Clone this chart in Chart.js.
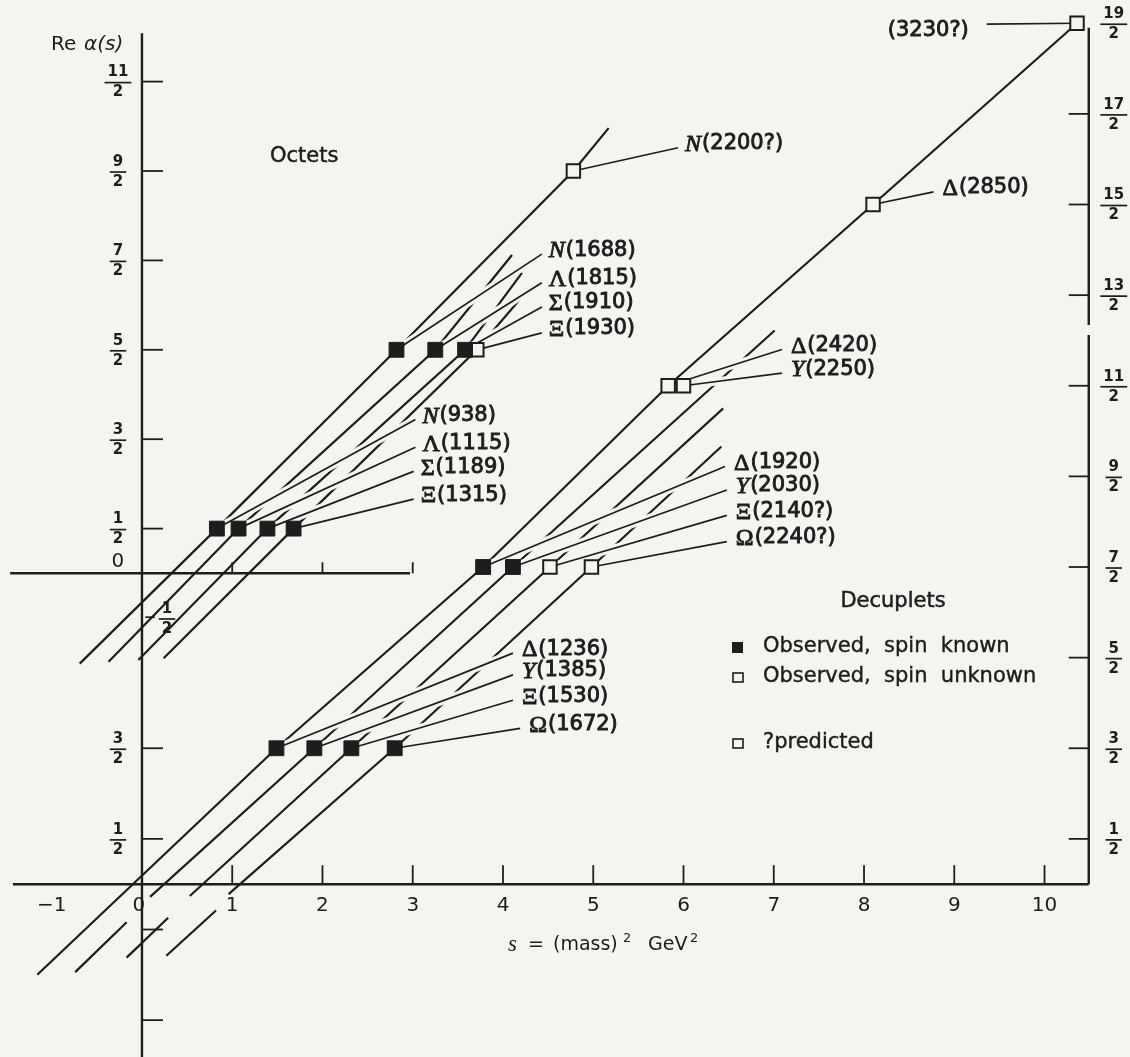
<!DOCTYPE html>
<html>
<head>
<meta charset="utf-8">
<title>Regge trajectories of the baryon octets and decuplets</title>
<script src="https://cdn.jsdelivr.net/npm/chart.js@4.4.1/dist/chart.umd.min.js"></script>
<style>
  html, body { margin: 0; padding: 0; background: #f4f4f1; }
  #chart { display: block; }
</style>
</head>
<body>
<canvas id="chart" width="1130" height="1057"></canvas>
<script>
// s = (mass)^2 in GeV^2, Re alpha(s) = spin J

// octet baryons
const octetNames = ['N(938)', 'Λ(1115)', 'Σ(1189)', 'Ξ(1315)', 'N(1688)', 'Λ(1815)', 'Σ(1910)', 'Ξ(1930)', 'N(2200?)'];
const octetS = [0.83, 1.07, 1.39, 1.68, 2.82, 3.25, 3.58, 3.71, 4.78];
const octetSpin = [0.5, 0.5, 0.5, 0.5, 2.5, 2.5, 2.5, 2.5, 4.5];
const octetKnown = [true, true, true, true, true, true, true, false, false];
// far end of each label's leader line
const octetLeaderS = [3.03, 3.03, 3.01, 3.01, 4.43, 4.43, 4.43, 4.43, 5.94];
const octetLeaderA = [1.72, 1.41, 1.14, 0.83, 3.57, 3.25, 2.98, 2.69, 4.76];

// decuplet baryons
const decupletNames = ['Δ(1236)', 'Y(1385)', 'Ξ(1530)', 'Ω(1672)', 'Δ(1920)', 'Y(2030)', 'Ξ(2140?)', 'Ω(2240?)', 'Δ(2420)', 'Y(2250)', 'Δ(2850)', '(3230?)'];
const decupletS = [1.49, 1.91, 2.32, 2.80, 3.78, 4.11, 4.52, 4.98, 5.83, 6.00, 8.10, 10.36];
const decupletSpin = [1.5, 1.5, 1.5, 1.5, 3.5, 3.5, 3.5, 3.5, 5.5, 5.5, 7.5, 9.5];
const decupletKnown = [true, true, true, true, true, true, false, false, false, false, false, false];
const decupletLeaderS = [4.11, 4.11, 4.11, 4.19, 6.46, 6.48, 6.48, 6.48, 7.09, 7.09, 8.77, 9.36];
const decupletLeaderA = [2.55, 2.31, 2.03, 1.72, 4.61, 4.35, 4.07, 3.78, 5.90, 5.64, 7.64, 9.49];

// trajectories as drawn, [s, Re alpha], null = break in the line
const octetTrajN = [[-0.69, -1.01], [0.83, 0.5], [2.82, 2.5], [4.78, 4.5], [5.17, 4.98]];
const octetTrajL = [[-0.37, -0.99], [1.07, 0.5], [3.25, 2.5], [4.10, 3.56]];
const octetTrajS = [[-0.04, -0.97], [1.39, 0.5], [3.58, 2.5], [4.21, 3.36]];
const octetTrajX = [[0.24, -0.95], [1.68, 0.5], [3.71, 2.5], [4.21, 3.09]];
const decupletTrajD = [[-1.16, -1.00], [1.49, 1.5], [3.78, 3.5], [5.83, 5.5], [8.10, 7.5], [10.36, 9.5]];
const decupletTrajY = [[-0.74, -0.97], [-0.17, -0.42], null, [0.09, -0.14], [1.91, 1.5], [4.11, 3.5], [7.01, 6.11]];
const decupletTrajX = [[-0.17, -0.81], [0.29, -0.37], null, [0.53, -0.13], [2.32, 1.5], [4.52, 3.5], [6.44, 5.25]];
const decupletTrajO = [[0.27, -0.79], [0.82, -0.29], null, [0.96, -0.11], [2.80, 1.5], [4.98, 3.5], [6.42, 4.83]];

// axes
const sTicks = [1, 2, 3, 4, 5, 6, 7, 8, 9, 10];
const sTickLabels = [-1, 0, 1, 2, 3, 4, 5, 6, 7, 8, 9, 10];
const octetSTicks = [1, 2, 3];
const octetSpinTicks = [0.5, 1.5, 2.5, 3.5, 4.5, 5.5];
const decupletLeftTicks = [0.5, 1.5];
const belowTicks = [-0.5, -1.5];
const decupletRightTicks = [0.5, 1.5, 2.5, 3.5, 4.5, 5.5, 6.5, 7.5, 8.5, 9.5];

const legendItems = ['Observed,  spin  known', 'Observed,  spin  unknown', '?predicted'];

const paper = '#f4f4f1';
const ink = '#1d1d1d';

const toPoints = arr => arr.map(p => p ? { x: p[0], y: p[1] } : { x: null, y: null });
const markers = (sArr, aArr, known, want) =>
  sArr.map((s, i) => ({ x: s, y: aArr[i] })).filter((p, i) => known[i] === want);
const leaders = (sArr, aArr, ls, la) => {
  const out = [];
  sArr.forEach((s, i) => {
    out.push({ x: s, y: aArr[i] }, { x: ls[i], y: la[i] }, { x: null, y: null });
  });
  return out;
};

const trajStyle = { showLine: true, pointRadius: 0, borderColor: ink, borderWidth: 2.2, spanGaps: false, order: 4 };
const haloStyle = { showLine: true, pointRadius: 0, borderColor: paper, borderWidth: 8, spanGaps: false, order: 3 };
const leadStyle = { showLine: true, pointRadius: 0, borderColor: ink, borderWidth: 1.7, spanGaps: false, order: 2 };
const filledStyle = { showLine: false, pointStyle: 'rect', pointRadius: 10.5, backgroundColor: ink, borderColor: ink, borderWidth: 1, order: 0 };
const openStyle = { showLine: false, pointStyle: 'rect', pointRadius: 9.5, backgroundColor: paper, borderColor: ink, borderWidth: 2, order: 1 };

const datasets = [];
[octetTrajN, octetTrajL, octetTrajS, octetTrajX].forEach(t =>
  datasets.push(Object.assign({ data: toPoints(t), yAxisID: 'yOct' }, trajStyle)));
[decupletTrajD, decupletTrajY, decupletTrajX, decupletTrajO].forEach(t =>
  datasets.push(Object.assign({ data: toPoints(t), yAxisID: 'y' }, trajStyle)));
const octLead = leaders(octetS, octetSpin, octetLeaderS, octetLeaderA);
const decLead = leaders(decupletS, decupletSpin, decupletLeaderS, decupletLeaderA);
datasets.push(Object.assign({ data: octLead, yAxisID: 'yOct' }, haloStyle));
datasets.push(Object.assign({ data: decLead, yAxisID: 'y' }, haloStyle));
datasets.push(Object.assign({ data: octLead, yAxisID: 'yOct' }, leadStyle));
datasets.push(Object.assign({ data: decLead, yAxisID: 'y' }, leadStyle));
datasets.push(Object.assign({ data: markers(octetS, octetSpin, octetKnown, true), yAxisID: 'yOct' }, filledStyle));
datasets.push(Object.assign({ data: markers(octetS, octetSpin, octetKnown, false), yAxisID: 'yOct' }, openStyle));
datasets.push(Object.assign({ data: markers(decupletS, decupletSpin, decupletKnown, true), yAxisID: 'y' }, filledStyle));
datasets.push(Object.assign({ data: markers(decupletS, decupletSpin, decupletKnown, false), yAxisID: 'y' }, openStyle));

function line(ctx, x1, y1, x2, y2) {
  ctx.beginPath();
  ctx.moveTo(x1, y1);
  ctx.lineTo(x2, y2);
  ctx.stroke();
}

function frac(ctx, num, cx, cy) {
  ctx.font = 'bold 15px "DejaVu Sans"';
  ctx.textAlign = 'center';
  ctx.textBaseline = 'middle';
  const w = Math.max(ctx.measureText(num).width, 10) + 6;
  ctx.fillText(num, cx, cy - 9);
  ctx.fillText('2', cx, cy + 11);
  ctx.lineWidth = 1.7;
  line(ctx, cx - w / 2, cy + 1, cx + w / 2, cy + 1);
}

function particleLabel(ctx, text, x, y, align) {
  const sym = /^[NΛΣΞΩΔY]/.test(text) ? text[0] : '';
  const rest = text.slice(sym.length);
  const symFont = (sym === 'N' || sym === 'Y' ? 'italic ' : '') + '24px "Liberation Serif"';
  const restFont = '21px "DejaVu Sans"';
  ctx.textAlign = 'left';
  ctx.textBaseline = 'middle';
  ctx.font = symFont;
  const w1 = sym ? ctx.measureText(sym).width + 1 : 0;
  ctx.font = restFont;
  const w2 = ctx.measureText(rest).width;
  const left = align === 'right' ? x - w1 - w2 : x;
  ctx.lineWidth = 0.9;
  if (sym) {
    ctx.font = symFont;
    ctx.fillText(sym, left, y + 1);
    ctx.strokeText(sym, left, y + 1);
  }
  ctx.font = restFont;
  ctx.fillText(rest, left + w1, y);
  ctx.strokeText(rest, left + w1, y);
}

const axesPlugin = {
  id: 'reggeAxes',
  beforeDatasetsDraw(chart) {
    const ctx = chart.ctx;
    const xs = chart.scales.x, yd = chart.scales.y, yo = chart.scales.yOct;
    const area = chart.chartArea;
    ctx.save();
    ctx.strokeStyle = ink;
    ctx.fillStyle = ink;
    ctx.lineWidth = 2.4;
    // left vertical axis at s = 0
    const x0 = xs.getPixelForValue(0);
    line(ctx, x0, yo.getPixelForValue(6.04), x0, area.bottom);
    // octet s axis
    const yo0 = yo.getPixelForValue(0);
    line(ctx, xs.getPixelForValue(-1.46), yo0, xs.getPixelForValue(2.97), yo0);
    ctx.lineWidth = 1.8;
    octetSTicks.forEach(v => {
      const px = xs.getPixelForValue(v);
      line(ctx, px, yo0, px, yo0 - 11);
    });
    // decuplet s axis and right axis
    const yd0 = yd.getPixelForValue(0);
    const xr = xs.getPixelForValue(10.49);
    ctx.lineWidth = 2.4;
    line(ctx, xs.getPixelForValue(-1.43), yd0, xr, yd0);
    line(ctx, xr, yd.getPixelForValue(9.45), xr, yd.getPixelForValue(6.17));
    line(ctx, xr, yd.getPixelForValue(6.06), xr, yd0);
    ctx.lineWidth = 1.8;
    sTicks.forEach(v => {
      const px = xs.getPixelForValue(v);
      line(ctx, px, yd0, px, yd0 - 19);
    });
    octetSpinTicks.forEach(v => {
      const py = yo.getPixelForValue(v);
      line(ctx, x0, py, x0 + 21, py);
    });
    decupletLeftTicks.concat(belowTicks).forEach(v => {
      const py = yd.getPixelForValue(v);
      line(ctx, x0, py, x0 + 21, py);
    });
    decupletRightTicks.filter(v => v < 9).forEach(v => {
      const py = yd.getPixelForValue(v);
      line(ctx, xr, py, xr - 20, py);
    });
    ctx.restore();
  },
  afterDatasetsDraw(chart) {
    const ctx = chart.ctx;
    const xs = chart.scales.x, yd = chart.scales.y, yo = chart.scales.yOct;
    const x0 = xs.getPixelForValue(0);
    const xr = xs.getPixelForValue(10.49);
    const yd0 = yd.getPixelForValue(0);
    ctx.save();
    ctx.fillStyle = ink;
    ctx.strokeStyle = ink;

    // tick labels
    ctx.font = '20px "DejaVu Sans"';
    ctx.textAlign = 'center';
    ctx.textBaseline = 'middle';
    sTickLabels.forEach(v => {
      const t = v < 0 ? '\u2212' + Math.abs(v) : String(v);
      ctx.fillText(t, xs.getPixelForValue(v) - (v === 0 ? 3 : 0), yd0 + 22);
    });
    ctx.fillText('0', x0 - 24, yo.getPixelForValue(0) - 12);
    octetSpinTicks.forEach(v => frac(ctx, String(v * 2), x0 - 24, yo.getPixelForValue(v)));
    decupletLeftTicks.forEach(v => frac(ctx, String(v * 2), x0 - 24, yd.getPixelForValue(v)));
    decupletRightTicks.forEach(v => frac(ctx, String(v * 2), xr + 25, yd.getPixelForValue(v)));
    // the -1/2 of the octet axis
    ctx.font = 'bold 15px "DejaVu Sans"';
    ctx.fillText('\u2212', x0 + 8, yo.getPixelForValue(-0.5));
    frac(ctx, '1', x0 + 25, yo.getPixelForValue(-0.5));

    // axis titles
    ctx.textAlign = 'left';
    ctx.textBaseline = 'middle';
    ctx.font = '20px "DejaVu Sans"';
    ctx.fillText('Re', 51, 45);
    ctx.font = 'italic 20px "DejaVu Sans"';
    ctx.fillText('\u03b1(s)', 84, 45);
    const ty = yd0 + 61;
    ctx.font = 'italic 23px "Liberation Serif"';
    ctx.fillText('s', 508, ty);
    ctx.font = '19px "DejaVu Sans"';
    ctx.fillText('=', 528, ty);
    ctx.fillText('(mass)', 553, ty);
    ctx.fillText('GeV', 648, ty);
    ctx.font = '13px "DejaVu Sans"';
    ctx.fillText('2', 623, ty - 7);
    ctx.fillText('2', 690, ty - 7);

    // group titles and legend
    ctx.font = '21px "DejaVu Sans"';
    ctx.lineWidth = 0.5;
    ctx.fillText('Octets', 270, 157);
    ctx.strokeText('Octets', 270, 157);
    ctx.textAlign = 'center';
    ctx.fillText('Decuplets', 893, 602);
    ctx.strokeText('Decuplets', 893, 602);
    ctx.textAlign = 'left';
    legendItems.forEach((t, i) => {
      const ly = [647, 677, 743][i];
      ctx.lineWidth = 0.4;
      ctx.fillText(t, 763, ly);
      ctx.strokeText(t, 763, ly);
      if (i === 0) {
        ctx.fillRect(732, ly - 5, 11, 11);
      } else {
        ctx.lineWidth = 1.6;
        ctx.strokeRect(733, ly - 4, 10, 9);
      }
    });

    // particle labels at the end of their leaders
    octetNames.forEach((n, i) => {
      particleLabel(ctx, n, xs.getPixelForValue(octetLeaderS[i]) + 7, yo.getPixelForValue(octetLeaderA[i]) - 4, 'left');
    });
    decupletNames.forEach((n, i) => {
      const right = n.charAt(0) === '(';
      const px = xs.getPixelForValue(decupletLeaderS[i]);
      const py = yd.getPixelForValue(decupletLeaderA[i]);
      if (right) {
        particleLabel(ctx, n, px - 18, py + 6, 'right');
      } else {
        particleLabel(ctx, n, px + 9, py - 4, 'left');
      }
    });
    ctx.restore();
  }
};

new Chart(document.getElementById('chart'), {
  type: 'scatter',
  data: { datasets },
  options: {
    responsive: false,
    animation: false,
    events: [],
    layout: { padding: 0, autoPadding: false },
    plugins: { legend: { display: false }, tooltip: { enabled: false } },
    scales: {
      x: { type: 'linear', min: -1.573, max: 10.947, display: false },
      y: { type: 'linear', min: -1.9068, max: 9.7567, display: false },
      yOct: { type: 'linear', axis: 'y', min: -5.4105, max: 6.4128, display: false }
    }
  },
  plugins: [axesPlugin]
});
</script>
</body>
</html>
